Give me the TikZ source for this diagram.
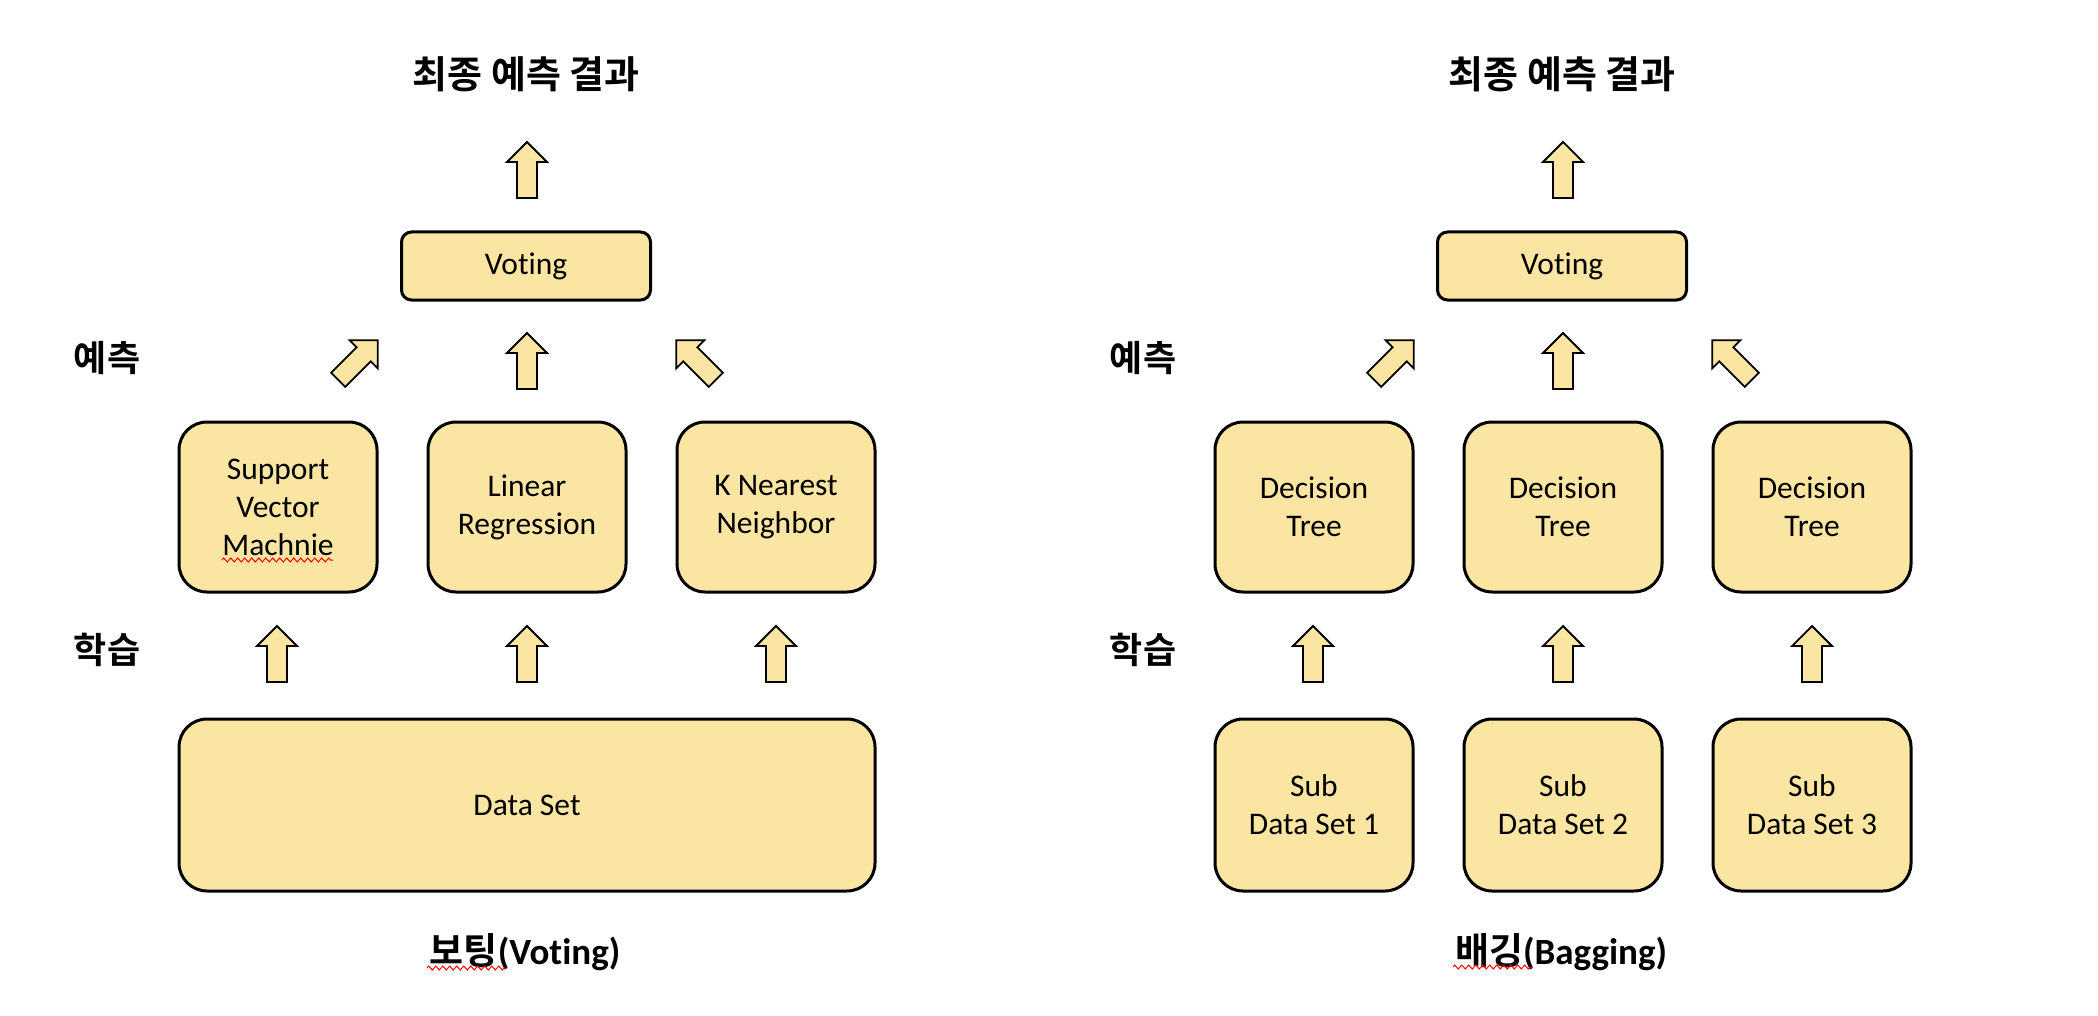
\documentclass[tikz,border=0pt]{standalone}
\usepackage{fontspec}
\setmainfont{Carlito}[Ligatures={NoCommon,NoContextual}]
\newfontfamily\krfont{Noto Sans CJK KR Bold}
\usepackage{tikz}
\usetikzlibrary{positioning}
\usetikzlibrary{decorations.pathmorphing}
\definecolor{boxfill}{HTML}{FAE6A2}
\tikzset{% boxes, labels and block arrows
        model/.style={draw, fill=boxfill, line width=1.5pt, rounded corners=14pt,
          minimum width=99pt, minimum height=85pt, inner sep=0pt, align=center,
          font=\fontsize{15.75}{19}\selectfont},
        votebox/.style={model, rounded corners=5pt, minimum width=124.5pt, minimum height=34pt},
        headline/.style={font=\krfont\fontsize{19}{22}\selectfont},
        sideline/.style={font=\krfont\fontsize{18}{21}\selectfont},
        footline/.style={font=\fontsize{18.5}{21}\selectfont},
        blockarrow/.style={draw, fill=boxfill, line width=0.9pt, line join=miter},
        squiggle/.style={red, line width=0.5pt, decorate,
          decoration={zigzag, segment length=3.5pt, amplitude=1pt}},
        blockup/.pic={\path[blockarrow] (-10,28) -- (-10,-8) -- (-20,-8) -- (0,-28)
          -- (20,-8) -- (10,-8) -- (10,28) -- cycle;}
        }

\begin{document}
\begin{tikzpicture}[x=0.5pt, y=-0.5pt]
\fill[white] (0,0) rectangle (2098,1016);
\useasboundingbox (0,0) rectangle (2098,1016);

% voting
\node[headline] (resultL) at (526,74) {최종 예측 결과};
\pic (upL) at (527,170) {blockup};
\node[votebox] (voteL) at (526,266) {Voting};
\node[sideline] (predictL) at (107,358) {예측};
\pic[rotate=-45] (predL1) at (358,360) {blockup};
\pic (predL2) at (527,361) {blockup};
\pic[rotate=45] (predL3) at (696,360) {blockup};
\node[model] (svm) at (278,507) {Support\\Vector\\Machnie};
\node[model] (linreg) at (527,507) {Linear\\Regression};
\node[model] (knn) at (776,507) {K Nearest\\Neighbor};
\draw[squiggle] (222,560) -- (333,560);
\node[sideline] (trainL) at (107,650) {학습};
\pic (trainL1) at (277,654) {blockup};
\pic (trainL2) at (527,654) {blockup};
\pic (trainL3) at (776,654) {blockup};
\node[model, minimum width=348pt, minimum height=86pt] (data) at (527,805) {Data Set};
\node[footline] (votename) at (525,952) {{\krfont 보팅}\textbf{(Voting)}};
\draw[squiggle] (427,968) -- (506,968);

% bagging
\node[headline] (resultR) at (1562,74) {최종 예측 결과};
\pic (upR) at (1563,170) {blockup};
\node[votebox] (voteR) at (1562,266) {Voting};
\node[sideline] (predictR) at (1143,358) {예측};
\pic[rotate=-45] (predR1) at (1394,360) {blockup};
\pic (predR2) at (1563,361) {blockup};
\pic[rotate=45] (predR3) at (1732,360) {blockup};
\node[model] (tree1) at (1314,507) {Decision\\Tree};
\node[model] (tree2) at (1563,507) {Decision\\Tree};
\node[model] (tree3) at (1812,507) {Decision\\Tree};
\node[sideline] (trainR) at (1143,650) {학습};
\pic (trainR1) at (1313,654) {blockup};
\pic (trainR2) at (1563,654) {blockup};
\pic (trainR3) at (1812,654) {blockup};
\node[model, minimum height=86pt] (sub1) at (1314,805) {Sub\\Data Set 1};
\node[model, minimum height=86pt] (sub2) at (1563,805) {Sub\\Data Set 2};
\node[model, minimum height=86pt] (sub3) at (1812,805) {Sub\\Data Set 3};
\node[footline] (bagname) at (1561,952) {{\krfont 배깅}\textbf{(Bagging)}};
\draw[squiggle] (1453,967) -- (1532,967);
\end{tikzpicture}
\end{document}
